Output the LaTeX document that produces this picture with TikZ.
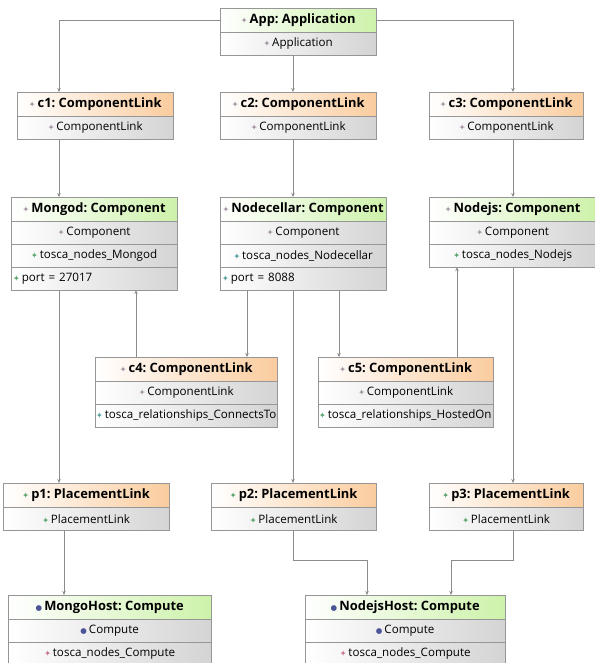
\documentclass[tikz,border=0pt]{standalone}
\usepackage{fontspec}
\setmainfont{Open Sans}
\newfontfamily\symfont{DejaVu Sans}
\usetikzlibrary{positioning, arrows.meta}
\frenchspacing

\definecolor{compgreen}{RGB}{205,242,170}
\definecolor{linkorange}{RGB}{250,204,158}
\definecolor{rowgray}{RGB}{212,212,212}
\definecolor{boxline}{RGB}{150,150,150}
\definecolor{wiregray}{RGB}{140,140,140}
\definecolor{icgray}{RGB}{165,150,165}
\definecolor{icgreen}{RGB}{90,165,110}
\definecolor{icteal}{RGB}{90,160,160}
\definecolor{icblue}{RGB}{75,85,150}
\definecolor{icpink}{RGB}{200,120,140}
\newcommand{\ico}[1]{{\symfont\fontsize{8}{8}\selectfont\textcolor{#1}{✦}}\,}
\newcommand{\icb}{{\symfont\fontsize{7.5}{8}\selectfont\textcolor{icblue}{●}}\,}

\tikzset{
    head/.style={draw=boxline, anchor=north west, minimum width=#1, minimum height=24pt,
        inner sep=0pt, left color=white, font=\fontsize{12.9}{15}\selectfont\bfseries},
    comp/.style={head=#1, right color=compgreen},
    link/.style={head=#1, right color=linkorange},
    row/.style={draw=boxline, text width=#1, align=center, minimum height=22.5pt, inner sep=0pt,
        left color=white, right color=rowgray, font=\fontsize{11.6}{13}\selectfont},
    conn/.style={draw=wiregray, -{Stealth[length=4pt, width=3.5pt]}}
}

\begin{document}
\begin{tikzpicture}[x=1pt, y=-1pt]
    \useasboundingbox (0,0) rectangle (594,663);
    % application and first component links
    \node (app) [comp=156pt] at (220,8) {\ico{icgray}App: Application};
    \node (app-1) [row=156pt, below=0pt of app] {\ico{icgray}Application};
    \node (c1) [link=156pt] at (17,92) {\ico{icgray}c1: ComponentLink};
    \node (c1-1) [row=156pt, below=0pt of c1] {\ico{icgray}ComponentLink};
    \node (c2) [link=156pt] at (220,92) {\ico{icgray}c2: ComponentLink};
    \node (c2-1) [row=156pt, below=0pt of c2] {\ico{icgray}ComponentLink};
    \node (c3) [link=154pt] at (429,92) {\ico{icgray}c3: ComponentLink};
    \node (c3-1) [row=154pt, below=0pt of c3] {\ico{icgray}ComponentLink};
    % components
    \node (mongod) [comp=166pt] at (11,197) {\ico{icgray}Mongod: Component};
    \node (mongod-1) [row=166pt, below=0pt of mongod] {\ico{icgray}Component};
    \node (mongod-2) [row=166pt, below=0pt of mongod-1] {\ico{icgreen}tosca\_nodes\_Mongod};
    \node (mongod-3) [row=166pt, align=left, below=0pt of mongod-2] {\hspace*{2pt}\ico{icgreen}port = 27017};
    \node (nodecellar) [comp=166pt] at (220,197) {\ico{icgray}Nodecellar: Component};
    \node (nodecellar-1) [row=166pt, below=0pt of nodecellar] {\ico{icgray}Component};
    \node (nodecellar-2) [row=166pt, below=0pt of nodecellar-1] {\ico{icteal}tosca\_nodes\_Nodecellar};
    \node (nodecellar-3) [row=166pt, align=left, below=0pt of nodecellar-2] {\hspace*{2pt}\ico{icteal}port = 8088};
    \node (nodejs) [comp=167pt] at (429,197) {\ico{icgray}Nodejs: Component};
    \node (nodejs-1) [row=167pt, below=0pt of nodejs] {\ico{icgray}Component};
    \node (nodejs-2) [row=167pt, below=0pt of nodejs-1] {\ico{icgreen}tosca\_nodes\_Nodejs};
    % relationship links
    \node (c4) [link=182pt] at (95,357) {\ico{icgray}c4: ComponentLink};
    \node (c4-1) [row=182pt, below=0pt of c4] {\ico{icgray}ComponentLink};
    \node (c4-2) [row=182pt, align=left, below=0pt of c4-1] {\hspace*{1pt}\ico{icteal}tosca\_relationships\_ConnectsTo};
    \node (c5) [link=175pt] at (318,357) {\ico{icgray}c5: ComponentLink};
    \node (c5-1) [row=175pt, below=0pt of c5] {\ico{icgray}ComponentLink};
    \node (c5-2) [row=175pt, align=left, below=0pt of c5-1] {\hspace*{1pt}\ico{icgreen}tosca\_relationships\_HostedOn};
    % placement links
    \node (p1) [link=166pt] at (3,483) {\ico{icgreen}p1: PlacementLink};
    \node (p1-1) [row=166pt, below=0pt of p1] {\ico{icgreen}PlacementLink};
    \node (p2) [link=165pt] at (211,483) {\ico{icgreen}p2: PlacementLink};
    \node (p2-1) [row=165pt, below=0pt of p2] {\ico{icgreen}PlacementLink};
    \node (p3) [link=154pt] at (429,483) {\ico{icgreen}p3: PlacementLink};
    \node (p3-1) [row=154pt, below=0pt of p3] {\ico{icgreen}PlacementLink};
    % hosts
    \node (mongohost) [comp=203pt] at (8,595) {\icb MongoHost: Compute};
    \node (mongohost-1) [row=203pt, below=0pt of mongohost] {\icb Compute};
    \node (mongohost-2) [row=203pt, below=0pt of mongohost-1] {\ico{icpink}tosca\_nodes\_Compute};
    \node (nodejshost) [comp=200pt] at (305,595) {\icb NodejsHost: Compute};
    \node (nodejshost-1) [row=200pt, below=0pt of nodejshost] {\icb Compute};
    \node (nodejshost-2) [row=200pt, below=0pt of nodejshost-1] {\ico{icpink}tosca\_nodes\_Compute};

    \draw [conn] (app.west) -| ([xshift=42pt]c1.north west);
    \draw [conn] ([xshift=73pt]app-1.south west) -- ([xshift=73pt]c2.north west);
    \draw [conn] (app.east) -| ([xshift=84pt]c3.north west);
    \draw [conn] ([xshift=42pt]c1-1.south west) -- ([xshift=48pt]mongod.north west);
    \draw [conn] ([xshift=73pt]c2-1.south west) -- ([xshift=73pt]nodecellar.north west);
    \draw [conn] ([xshift=84pt]c3-1.south west) -- ([xshift=84pt]nodejs.north west);
    \draw [conn] ([xshift=48pt]mongod-3.south west) -- ([xshift=56pt]p1.north west);
    \draw [conn] ([xshift=41pt]c4.north west) -- ([xshift=125pt]mongod-3.south west);
    \draw [conn] ([xshift=27pt]nodecellar-3.south west) -- ([xshift=152pt]c4.north west);
    \draw [conn] ([xshift=73pt]nodecellar-3.south west) -- ([xshift=82pt]p2.north west);
    \draw [conn] ([xshift=119pt]nodecellar-3.south west) -- ([xshift=21pt]c5.north west);
    \draw [conn] ([xshift=139pt]c5.north west) -- ([xshift=28pt]nodejs-2.south west);
    \draw [conn] ([xshift=84pt]nodejs-2.south west) -- ([xshift=84pt]p3.north west);
    \draw [conn] ([xshift=61pt]p1-1.south west) -- ([xshift=56pt]mongohost.north west);
    \draw [conn] ([xshift=82pt]p2-1.south west) -- ++(0,30) -| ([xshift=62pt]nodejshost.north west);
    \draw [conn] ([xshift=84pt]p3-1.south west) -- ++(0,30) -| ([xshift=146pt]nodejshost.north west);
\end{tikzpicture}
\end{document}
